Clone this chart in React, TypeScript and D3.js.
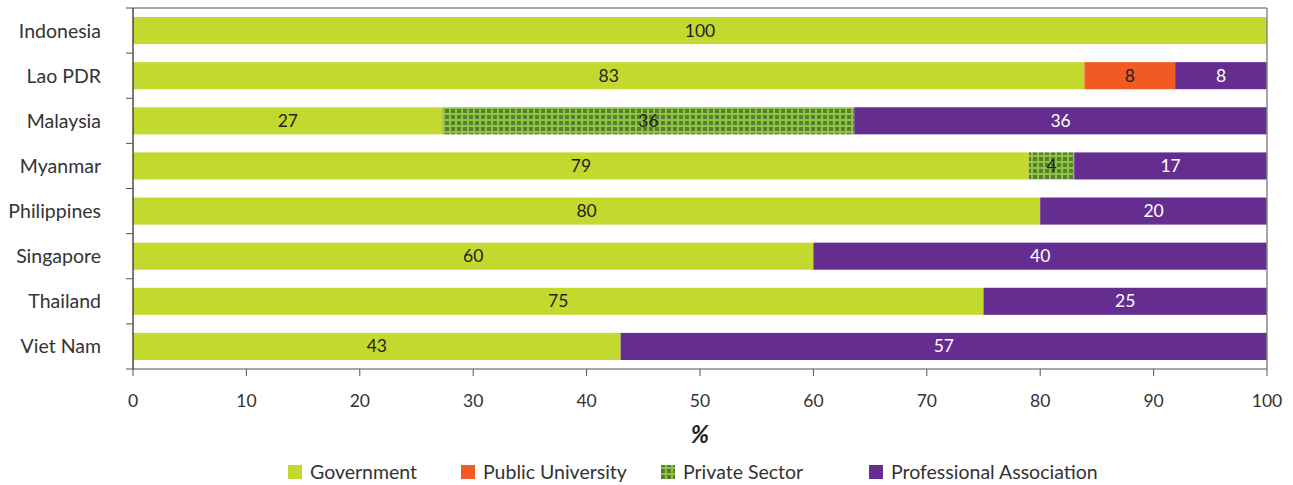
import React from "react";
import * as d3 from "d3";

const countries = ["Indonesia", "Lao PDR", "Malaysia", "Myanmar", "Philippines", "Singapore", "Thailand", "Viet Nam"];
const seriesNames = ["Government", "Public University", "Private Sector", "Professional Association"];
const government = [100, 83.9, 27.3, 79, 80, 60, 75, 43];
const publicUniversity = [0, 8, 0, 0, 0, 0, 0, 0];
const privateSector = [0, 0, 36.3, 4, 0, 0, 0, 0];
const professionalAssociation = [0, 8.1, 36.4, 17, 20, 40, 25, 57];
const governmentLabels = ["100", "83", "27", "79", "80", "60", "75", "43"];
const publicUniversityLabels = ["", "8", "", "", "", "", "", ""];
const privateSectorLabels = ["", "", "36", "4", "", "", "", ""];
const professionalLabels = ["", "8", "36", "17", "20", "40", "25", "57"];
const xTicks = [0, 10, 20, 30, 40, 50, 60, 70, 80, 90, 100];

const W = 1293, H = 485;
const left = 133, right = 1267, top = 8, bottom = 369;
const FONT = "Lato, 'Open Sans', sans-serif";

export default function App() {
  const x = d3.scaleLinear().domain([0, 100]).range([left, right]);
  const y = d3.scaleBand<string>().domain(countries).range([top, bottom]).paddingInner(0.4).paddingOuter(0.2);
  const step = y.step();
  const seriesVals = [government, publicUniversity, privateSector, professionalAssociation];
  const seriesLabels = [governmentLabels, publicUniversityLabels, privateSectorLabels, professionalLabels];
  const fills = ["#c4d92e", "#f15a22", "url(#grid)", "#662d91"];
  const textColors = ["#231f20", "#231f20", "#231f20", "#ffffff"];
  const legendFills = ["#c4d92e", "#f15a22", "url(#grid)", "#662d91"];
  const legendX = [288, 461, 661, 869];

  const bars: JSX.Element[] = [];
  const labels: JSX.Element[] = [];
  countries.forEach((c, i) => {
    let cum = 0;
    seriesVals.forEach((s, k) => {
      const v = s[i];
      if (v > 0) {
        const x0 = x(cum), x1 = x(cum + v);
        bars.push(<rect key={`b${i}-${k}`} x={x0} y={y(c)} width={x1 - x0} height={y.bandwidth()} fill={fills[k]} />);
        if (seriesLabels[k][i]) {
          labels.push(
            <text key={`t${i}-${k}`} x={(x0 + x1) / 2} y={(y(c) as number) + y.bandwidth() / 2 + 6}
              textAnchor="middle" fontSize={17.5} fill={textColors[k]} fontFamily={FONT}>{seriesLabels[k][i]}</text>
          );
        }
      }
      cum += v;
    });
  });

  return (
    <svg width={W} height={H} style={{ position: "absolute", left: 0, top: 0 }}>
      <defs>
        <pattern id="grid" patternUnits="userSpaceOnUse" width={6} height={6}>
          <rect width={6} height={6} fill="#8cc63e" />
          <rect x={1} y={1} width={4} height={4} fill="#5b7c36" />
        </pattern>
      </defs>
      {bars}
      {labels}
      <line x1={left} x2={right} y1={top} y2={top} stroke="#8a8a8a" strokeWidth={1.5} />
      <line x1={right} x2={right} y1={top} y2={bottom} stroke="#8a8a8a" strokeWidth={1.5} />
      <line x1={left} x2={right} y1={bottom} y2={bottom} stroke="#8a8a8a" strokeWidth={1.5} />
      <line x1={left} x2={left} y1={top} y2={bottom} stroke="#231f20" strokeWidth={1.2} />
      {d3.range(countries.length + 1).map((i) => (
        <line key={`yt${i}`} x1={left - 7} x2={left} y1={top + i * step} y2={top + i * step} stroke="#555" strokeWidth={1} />
      ))}
      {countries.map((c) => (
        <text key={`yl${c}`} x={101} y={(y(c) as number) + y.bandwidth() / 2 + 7} textAnchor="end" fontSize={19.5} fill="#333" fontFamily={FONT}>{c}</text>
      ))}
      {xTicks.map((t) => (
        <g key={`xt${t}`}>
          <line x1={x(t)} x2={x(t)} y1={bottom} y2={bottom + 7} stroke="#555" strokeWidth={1} />
          <text x={x(t)} y={407} textAnchor="middle" fontSize={17.5} fill="#333" fontFamily={FONT}>{t}</text>
        </g>
      ))}
      <text x={x(50)} y={443} textAnchor="middle" fontSize={24} fontWeight="bold" fontStyle="italic" fill="#231f20" fontFamily={FONT}>%</text>
      {seriesNames.map((n, k) => (
        <g key={`lg${k}`}>
          <rect x={legendX[k]} y={465} width={14} height={14} fill={legendFills[k]} />
          <text x={legendX[k] + 22} y={479} fontSize={19.5} fill="#333" fontFamily={FONT}>{n}</text>
        </g>
      ))}
    </svg>
  );
}
